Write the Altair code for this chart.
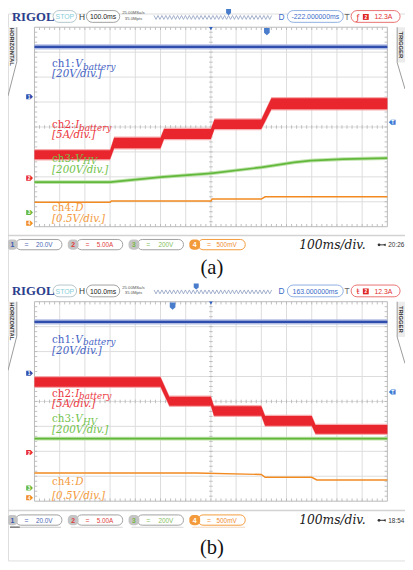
import altair as alt
import numpy as np
import pandas as pd

# ------------------------------------------------------------------
# Values.
# Time : ms from the left edge of the 14-division screen (100 ms/div)
# Level: screen divisions above the bottom graticule line (8 div high)
# ------------------------------------------------------------------
# ---- (a) ----
a_ch1_t = [0, 1400]
a_ch1_v = [7.21, 7.21]
a_ch2_t = [0, 300, 316, 500, 514, 700, 714, 900, 940, 1400]
a_ch2_v = [2.89, 2.89, 3.36, 3.36, 3.72, 3.72, 4.11, 4.11, 4.93, 4.93]
a_ch2_pp = [0.36, 0.36, 0.42, 0.42, 0.40, 0.40, 0.38, 0.38, 0.44, 0.44]
a_ch3_t = [0, 300, 500, 700, 900, 1030, 1095, 1225, 1400]
a_ch3_v = [1.79, 1.79, 1.99, 2.14, 2.38, 2.58, 2.65, 2.71, 2.75]
a_ch4_t = [0, 300, 305, 700, 705, 900, 915, 1400]
a_ch4_v = [0.98, 0.98, 1.03, 1.03, 1.11, 1.11, 1.20, 1.20]
a_offsets = [5.21, 1.95, 0.57, 0.14]
a_trig_level = 4.19
a_trig_time = 922
a_delay = "-222.000000ms"
a_clock = "20:26"
a_edge = "ƒ"

# ---- (b) ----
b_ch1_t = [0, 1400]
b_ch1_v = [7.19, 7.19]
b_ch2_t = [0, 500, 535, 700, 712, 900, 915, 1100, 1115, 1400]
b_ch2_v = [4.78, 4.78, 4.01, 4.01, 3.62, 3.62, 3.22, 3.22, 2.88, 2.88]
b_ch2_pp = [0.38, 0.38, 0.36, 0.36, 0.38, 0.38, 0.39, 0.39, 0.36, 0.36]
b_ch3_t = [0, 1400]
b_ch3_v = [2.51, 2.51]
b_ch4_t = [0, 640, 900, 915, 1100, 1120, 1400]
b_ch4_v = [1.13, 1.13, 1.07, 0.96, 0.96, 0.85, 0.85]
b_offsets = [5.13, 1.95, 0.53, 0.14]
b_trig_level = 4.38
b_trig_time = 548
b_delay = "163.000000ms"
b_clock = "18:54"
b_edge = "ŧ"

# ---- shared texts ----
ch_prefix = ["ch1:", "ch2:", "ch3:", "ch4:"]
ch_symbol = ["V", "I", "V", "D"]
ch_sub = ["battery", "battery", "HV", ""]
ch_div = ["[20V/div.]", "[5A/div.]", "[200V/div.]", "[0.5V/div.]"]
ch_scale = ["20.0V", "5.00A", "200V", "500mV"]
ch_num = ["1", "2", "3", "4"]
timebase = "100ms/div."
captions = ["(a)", "(b)"]

# ------------------------------------------------------------------
# layout / style
# ------------------------------------------------------------------
W, H = 405, 558
MX, MY = 8, 8


def cx(x):
    return x - MX


def cy(y):
    return y - MY


GRID_X = (35, 395)
GRID_Y = [(22, 225.5), (302, 505.5)]
XS = alt.Scale(domain=[0, 1400], range=[cx(GRID_X[0]), cx(GRID_X[1])], nice=False, zero=False)
DXS = alt.Scale(domain=[0, W], range=[0, W], nice=False, zero=False)
DYS = alt.Scale(domain=[0, H], range=[0, H], nice=False, zero=False)

TRACE = ["#2e4dac", "#e9262d", "#62b83b", "#f28a22"]
FRINGE = ["#a9b5e0", "#f6a3a6", "#b9e0a4", "#f7bf86"]
LABEL = ["#4563c4", "#ec3640", "#72c24b", "#f39a3c"]
VALUE = ["#4a64b4", "#e04040", "#86c060", "#f08c30"]

TAG_R = "M -1 -0.75 L 0.3 -0.75 L 1 0 L 0.3 0.75 L -1 0.75 Z"
TAG_L = "M 1 -0.75 L -0.3 -0.75 L -1 0 L -0.3 0.75 L 1 0.75 Z"
SHIELD = "M -0.8 -1 L 0.8 -1 L 0.8 0.3 L 0 1 L -0.8 0.3 Z"

# graticule
_g = [(k * 100, k * 100, 0, 8) for k in range(1, 14)] + [(0, 1400, k, k) for k in range(1, 8)]
GRID = pd.DataFrame(_g, columns=["t", "t2", "v", "v2"])
_tk = []
for i in range(1, 70):
    tt = i * 20
    _tk += [(tt, tt, 3.93, 4.07), (tt, tt, 7.89, 8.0), (tt, tt, 0.0, 0.11)]
for j in range(1, 40):
    vv = j * 0.2
    _tk += [(693, 707, vv, vv), (0, 11, vv, vv), (1389, 1400, vv, vv)]
TICKS = pd.DataFrame(_tk, columns=["t", "t2", "v", "v2"])
BORDER = pd.DataFrame([(0, 1400, 0, 8)], columns=["t", "t2", "v", "v2"])


def panel(p, c1t, c1v, c2t, c2v, c2pp, c3t, c3v, c4t, c4v, offsets, trig_level, trig_time):
    top, bot = GRID_Y[p]
    ys = alt.Scale(domain=[0, 8], range=[cy(bot), cy(top)], nice=False, zero=False)

    def X(f):
        return alt.X(f, type="quantitative", scale=XS, axis=None)

    def Y(f):
        return alt.Y(f, type="quantitative", scale=ys, axis=None)

    L = []
    L.append(alt.Chart(GRID).mark_rule(color="#dcdcdc", strokeWidth=1).encode(
        x=X("t"), x2="t2", y=Y("v"), y2="v2"))
    L.append(alt.Chart(TICKS).mark_rule(color="#b0b0b0", strokeWidth=0.8).encode(
        x=X("t"), x2="t2", y=Y("v"), y2="v2"))
    L.append(alt.Chart(BORDER).mark_rect(fillOpacity=0, stroke="#b8b8b8", strokeWidth=1).encode(
        x=X("t"), x2="t2", y=Y("v"), y2="v2"))

    def band(t, v, pp, k, extra):
        v = np.asarray(v, float)
        pp = np.broadcast_to(np.asarray(pp, float), v.shape)
        df = pd.DataFrame({"t": t, "lo": v - pp / 2, "hi": v + pp / 2,
                           "lo2": v - pp / 2 - extra, "hi2": v + pp / 2 + extra})
        outer = alt.Chart(df).mark_area(color=FRINGE[k], opacity=0.9).encode(
            x=X("t"), y=Y("lo2"), y2="hi2")
        inner = alt.Chart(df).mark_area(color=TRACE[k]).encode(x=X("t"), y=Y("lo"), y2="hi")
        return [outer, inner]

    L += band(c1t, c1v, 0.09, 0, 0.06)
    L += band(c3t, c3v, 0.07, 2, 0.04)
    L.append(alt.Chart(pd.DataFrame({"t": c4t, "v": c4v})).mark_line(
        color=TRACE[3], strokeWidth=1.5).encode(x=X("t"), y=Y("v")))
    L += band(c2t, c2v, c2pp, 1, 0.05)

    # channel offset tags on the left
    offs = pd.DataFrame({"v": offsets, "c": TRACE, "n": ch_num})
    L.append(alt.Chart(offs).mark_point(shape=TAG_R, filled=True, size=48, opacity=1).encode(
        x=alt.value(cx(30)), y=Y("v"), color=alt.Color("c:N", scale=None)))
    L.append(alt.Chart(offs).mark_text(fontSize=5, font="Liberation Sans", fontWeight="bold",
                                       color="white", baseline="middle").encode(
        x=alt.value(cx(29.5)), y=Y("v"), text="n:N"))
    # trigger level tag on the right
    trg = pd.DataFrame({"v": [trig_level], "n": ["T"]})
    L.append(alt.Chart(trg).mark_point(shape=TAG_L, filled=True, size=48, opacity=1,
                                       color="#3d7ad6").encode(x=alt.value(cx(400)), y=Y("v")))
    L.append(alt.Chart(trg).mark_text(fontSize=5, font="Liberation Sans", fontWeight="bold",
                                      color="white", baseline="middle").encode(
        x=alt.value(cx(400.5)), y=Y("v"), text="n:N"))
    # trigger-position markers on the top edge
    tpos = pd.DataFrame({"t": [trig_time]})
    L.append(alt.Chart(tpos).mark_point(shape=SHIELD, filled=True, size=52, opacity=1,
                                        color="#4a7ccc").encode(x=X("t"), y=alt.value(cy(top + 4.5))))
    ctr = pd.DataFrame({"t": [700]})
    L.append(alt.Chart(ctr).mark_point(shape="triangle-down", filled=True, size=14, opacity=1,
                                       color="#2f5fbf").encode(x=X("t"), y=alt.value(cy(top + 1.5))))
    return alt.layer(*L)


# ------------------------------------------------------------------
# decoration helpers (page coordinates)
# ------------------------------------------------------------------
def tx(rows, font="Liberation Sans", size=7, weight="normal", style="normal",
       align="left", angle=0, baseline="alphabetic"):
    df = pd.DataFrame([{"x": cx(x), "y": cy(y), "txt": s, "col": c} for x, y, s, c in rows])
    return alt.Chart(df).mark_text(font=font, fontSize=size, fontWeight=weight, fontStyle=style,
                                   align=align, angle=angle, baseline=baseline).encode(
        x=alt.X("x:Q", scale=DXS, axis=None), y=alt.Y("y:Q", scale=DYS, axis=None),
        text=alt.Text("txt:N"), color=alt.Color("col:N", scale=None))


def rc(rows, radius=0, width=1):
    df = pd.DataFrame([{"x": cx(a), "y": cy(b), "x2": cx(c), "y2": cy(d), "f": f, "s": s}
                       for a, b, c, d, f, s in rows])
    return alt.Chart(df).mark_rect(cornerRadius=radius, strokeWidth=width).encode(
        x=alt.X("x:Q", scale=DXS, axis=None), x2="x2:Q",
        y=alt.Y("y:Q", scale=DYS, axis=None), y2="y2:Q",
        fill=alt.Fill("f:N", scale=None), stroke=alt.Stroke("s:N", scale=None))


def pl(groups, color, width=1):
    rows = []
    for g, pts in enumerate(groups):
        for o, (x, y) in enumerate(pts):
            rows.append({"g": g, "o": o, "x": cx(x), "y": cy(y)})
    return alt.Chart(pd.DataFrame(rows)).mark_line(color=color, strokeWidth=width).encode(
        x=alt.X("x:Q", scale=DXS, axis=None), y=alt.Y("y:Q", scale=DYS, axis=None),
        detail="g:N", order="o:Q")


def pt(rows, shape, size, color):
    df = pd.DataFrame([{"x": cx(x), "y": cy(y)} for x, y in rows])
    return alt.Chart(df).mark_point(shape=shape, size=size, filled=True, opacity=1, color=color).encode(
        x=alt.X("x:Q", scale=DXS, axis=None), y=alt.Y("y:Q", scale=DYS, axis=None))


decor = []
delays = [a_delay, b_delay]
clocks = [a_clock, b_clock]
edges = [a_edge, b_edge]
bar_marker_x = [233, 200]
label_y = [[(63, 72.5), (125, 135.5), (159, 171), (209, 221)],
           [(344, 355), (399, 409.5), (425, 436), (489, 503)]]
sym_x = [77, 77, 77, 77]
sub_x = [85, 81, 85, 0]
status_y = [238.5, 519.5]
sep_y = [234.5, 515]
caption_y = [274, 559]

for p in range(2):
    dy = 280 * p
    # separator above status bar
    decor.append(rc([(0, sep_y[p] - 0.7, 413, sep_y[p] + 0.7, "#d2d2d2", "transparent")], width=0))
    # side tabs
    decor.append(rc([(8, 22 + dy, 17, 57 + dy, "#ececec", "transparent"),
                     (405, 22 + dy, 413, 58 + dy, "#ececec", "transparent")], width=0))
    decor.append(pl([[(17, 22 + dy), (17, 57 + dy), (8, 92 + dy)],
                     [(405, 22 + dy), (405, 58 + dy), (413, 85 + dy)]], "#9a9a9a", 1))
    decor.append(tx([(12.5, 42 + dy, "HORIZONTAL", "#333333")], size=6, weight="bold",
                    align="center", angle=90, baseline="middle"))
    decor.append(tx([(409, 40 + dy, "TRIGGER", "#333333")], size=6, weight="bold",
                    align="center", angle=90, baseline="middle"))
    # header pills
    decor.append(rc([(54, 5 + dy, 78, 17 + dy, "white", "#b4c6ca"),
                     (88, 5 + dy, 122, 17 + dy, "white", "#a0a0a0"),
                     (293, 5 + dy, 350, 17 + dy, "white", "#8eaee0"),
                     (358, 5 + dy, 408, 17 + dy, "white", "#e87070")], radius=6))
    decor.append(rc([(370, 8.5 + dy, 376, 14.5 + dy, "#e02525", "transparent")], width=0))
    decor.append(tx([(12, 15.5 + dy, "RIGOL", "#2b3d8c")], font="Liberation Serif", size=13, weight="bold"))
    decor.append(tx([(83.5, 14.5 + dy, "H", "#333333"), (287, 14.5 + dy, "D", "#3a6cc8"),
                     (354, 14.5 + dy, "T", "#666666")], size=8.5, align="center"))
    decor.append(tx([(66, 14 + dy, "STOP", "#86cfd9"), (105, 14 + dy, "100.0ms", "#222222"),
                     (321.5, 14 + dy, delays[p], "#3a6cc8"), (391, 14 + dy, "12.3A", "#e03030")],
                    size=7, align="center"))
    decor.append(tx([(365, 14.5 + dy, edges[p], "#e02525")], font="DejaVu Sans", size=8, align="center"))
    decor.append(tx([(373, 13.6 + dy, "2", "white")], size=5, weight="bold", align="center"))
    decor.append(tx([(136, 9 + dy, "25.00MSa/s", "#555555"), (136, 14.3 + dy, "35.0Mpts", "#555555")],
                    size=4.3, align="center"))
    zig = [(x, (10 if k % 2 == 0 else 14) + dy) for k, x in enumerate(range(157, 278, 2))]
    decor.append(pl([zig], "#8c9cc0", 0.8))
    decor.append(pt([(bar_marker_x[p], 6.5 + dy)], SHIELD, 40, "#4a7ccc"))
    # channel labels
    for k in range(4):
        yb, yd = label_y[p][k]
        decor.append(tx([(53, yb, ch_prefix[k], LABEL[k])], font="DejaVu Serif", size=10.5))
        decor.append(tx([(sym_x[k] - 0.5, yb, ch_symbol[k], LABEL[k])], font="DejaVu Serif", size=10.5,
                        style="italic"))
        if ch_sub[k]:
            decor.append(tx([(sub_x[k] - 0.5, yb + 2.5, ch_sub[k], LABEL[k])], font="DejaVu Serif", size=9,
                            style="italic"))
        decor.append(tx([(53, yd, ch_div[k], LABEL[k])], font="DejaVu Serif", size=10.5, style="italic"))
    # status bar
    sy = status_y[p]
    caps = [(7, 18), (69, 80), (131, 142), (193, 204)]
    mains = [(16, 63), (78, 125), (140, 187), (202, 250)]
    cap_fill = ["#c4c4c4", "#c4c4c4", "#c4c4c4", "#f39a3a"]
    main_stroke = ["#a0a0a0", "#a0a0a0", "#a0a0a0", "#f39a3a"]
    num_col = ["#3a58b0", "#e03a3a", "#7ab84a", "#ffffff"]
    decor.append(rc([(mains[k][0], sy, mains[k][1], sy + 10.5, "white", main_stroke[k]) for k in range(4)],
                    radius=5))
    decor.append(rc([(caps[k][0], sy, caps[k][1], sy + 10.5, cap_fill[k], "transparent") for k in range(4)],
                    radius=4, width=0))
    decor.append(tx([((caps[k][0] + caps[k][1]) / 2, sy + 7.8, ch_num[k], num_col[k]) for k in range(4)],
                    size=7, weight="bold", align="center"))
    decor.append(tx([(mains[k][0] + 11, sy + 7.8, "=", VALUE[k]) for k in range(4)], size=7, align="center"))
    decor.append(tx([(mains[k][0] + 29, sy + 7.8, ch_scale[k], VALUE[k]) for k in range(4)],
                    size=6.5, align="center"))
    if p == 1:
        decor.append(rc([(10, 531.5, 62, 532.5, "#c8c8c8", "transparent"),
                         (72, 531.5, 125, 532.5, "#d8d8d8", "transparent"),
                         (134, 531.5, 187, 532.5, "#d8d8d8", "transparent"),
                         (196, 531.5, 250, 532.5, "#f2d8c0", "transparent"),
                         (10, 531.3, 20, 532.7, "#777777", "transparent")], width=0))
    decor.append(tx([(305, sy + 9.5, timebase, "#1a1a1a")], font="DejaVu Serif", size=12.5, style="italic"))
    decor.append(pl([[(386, sy + 5.5), (393, sy + 5.5)]], "#333333", 1))
    decor.append(pt([(386.5, sy + 5.5)], "circle", 8, "#333333"))
    decor.append(pt([(392, sy + 5.5)], "triangle-left", 8, "#333333"))
    decor.append(tx([(396, sy + 8, clocks[p], "#333333")], size=6.5))
    decor.append(tx([(216, caption_y[p], captions[p], "#111111")], font="Liberation Serif", size=21,
                    align="center"))

pa = panel(0, a_ch1_t, a_ch1_v, a_ch2_t, a_ch2_v, a_ch2_pp, a_ch3_t, a_ch3_v, a_ch4_t, a_ch4_v,
           a_offsets, a_trig_level, a_trig_time)
pb = panel(1, b_ch1_t, b_ch1_v, b_ch2_t, b_ch2_v, b_ch2_pp, b_ch3_t, b_ch3_v, b_ch4_t, b_ch4_v,
           b_offsets, b_trig_level, b_trig_time)

chart = alt.layer(pa, pb, *decor).resolve_scale(
    x="independent", y="independent", color="independent", fill="independent", stroke="independent"
).properties(
    width=W, height=H, padding=0, autosize=alt.AutoSizeParams(type="none")
).configure_view(strokeWidth=0).configure(background="white")

chart.save("out.html", embed_options={"renderer": "svg", "actions": False})
